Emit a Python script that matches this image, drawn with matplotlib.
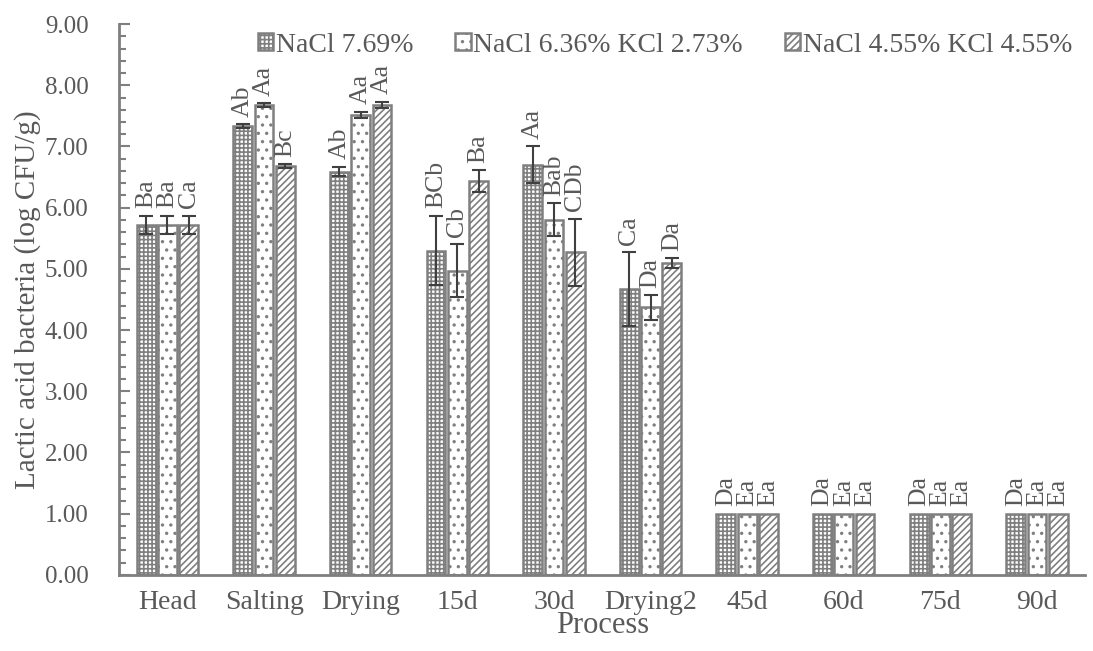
import numpy as np
import matplotlib
matplotlib.use('Agg')
import matplotlib.pyplot as plt
from matplotlib.ticker import MultipleLocator

plt.rcParams['font.family'] = ['Liberation Serif', 'DejaVu Serif']
plt.rcParams['hatch.linewidth'] = 1.2

# data
process = ['Head', 'Salting', 'Drying', '15d', '30d', 'Drying2', '45d', '60d', '75d', '90d']
series = ['NaCl 7.69%', 'NaCl 6.36% KCl 2.73%', 'NaCl 4.55% KCl 4.55%']

nacl = [5.72, 7.33, 6.59, 5.30, 6.70, 4.67, 1.00, 1.00, 1.00, 1.00]
nacl_kcl1 = [5.72, 7.68, 7.52, 4.97, 5.80, 4.37, 1.00, 1.00, 1.00, 1.00]
nacl_kcl2 = [5.72, 6.68, 7.68, 6.43, 5.27, 5.10, 1.00, 1.00, 1.00, 1.00]

err_nacl = [0.15, 0.03, 0.08, 0.57, 0.30, 0.60, 0, 0, 0, 0]
err_kcl1 = [0.15, 0.03, 0.05, 0.43, 0.27, 0.20, 0, 0, 0, 0]
err_kcl2 = [0.15, 0.03, 0.05, 0.18, 0.55, 0.08, 0, 0, 0, 0]

lab_nacl = ['Ba', 'Ab', 'Ab', 'BCb', 'Aa', 'Ca', 'Da', 'Da', 'Da', 'Da']
lab_kcl1 = ['Ba', 'Aa', 'Aa', 'Cb', 'Bab', 'Da', 'Ea', 'Ea', 'Ea', 'Ea']
lab_kcl2 = ['Ca', 'Bc', 'Aa', 'Ba', 'CDb', 'Da', 'Ea', 'Ea', 'Ea', 'Ea']

values = [nacl, nacl_kcl1, nacl_kcl2]
errors = [err_nacl, err_kcl1, err_kcl2]
letters = [lab_nacl, lab_kcl1, lab_kcl2]
hatches = ['++++', '..', '/////']

grey = '#595959'
edge = '#7f7f7f'

fig = plt.figure(figsize=(10.93, 6.51), dpi=100)
ax = fig.add_axes([0.109, 0.117, 0.884, 0.846])

x = np.arange(len(process))
w = 0.195
step = 0.22
for i in range(3):
    xs = x + (i - 1) * step
    ax.bar(xs, values[i], w, color='white', edgecolor=edge, hatch=hatches[i],
           linewidth=1.8, label=series[i], zorder=2)
    yerr = np.array(errors[i])
    mask = yerr > 0
    ax.errorbar(xs[mask], np.array(values[i])[mask], yerr=yerr[mask], fmt='none',
                ecolor='#404040', elinewidth=1.5, capsize=5, capthick=1.5, zorder=3)
    for xx, v, e, t in zip(xs, values[i], errors[i], letters[i]):
        ax.text(xx, v + e + 0.12, t, rotation=90, ha='center', va='bottom',
                fontsize=18.5, color=grey, linespacing=1.0)

ax.set_xlim(-0.5, len(process) - 0.5)
ax.set_ylim(0, 9)
ax.yaxis.set_minor_locator(MultipleLocator(0.2))
ax.set_yticks(np.arange(0, 10, 1))
ax.set_yticklabels(['%.2f' % v for v in np.arange(0, 10, 1)])
ax.set_xticks(x)
ax.set_xticklabels(process)
ax.tick_params(axis='y', which='major', direction='in', length=8, width=1.5,
               color=edge, labelsize=18, labelcolor=grey, pad=22)
ax.tick_params(axis='y', which='minor', direction='in', length=5, width=1.5, color=edge)
ax.tick_params(axis='x', length=0, labelsize=20, labelcolor=grey, pad=11)

for s in ['top', 'right']:
    ax.spines[s].set_visible(False)
for s in ['left', 'bottom']:
    ax.spines[s].set_color(edge)
    ax.spines[s].set_linewidth(2)

ax.set_ylabel('Lactic acid bacteria (log CFU/g)', fontsize=21, color=grey, labelpad=3)
ax.set_xlabel('Process', fontsize=22, color=grey, labelpad=-3)

leg = ax.legend(loc='center', bbox_to_anchor=(0.565, 0.962), ncol=3, frameon=True,
                facecolor='white', edgecolor='none', framealpha=1,
                fontsize=20, handlelength=0.55, handleheight=0.55, handletextpad=0.1,
                columnspacing=1.5, borderaxespad=0, borderpad=0.1)
leg.set_zorder(5)
for t in leg.get_texts():
    t.set_color(grey)

fig.savefig('out.png', dpi=100)
